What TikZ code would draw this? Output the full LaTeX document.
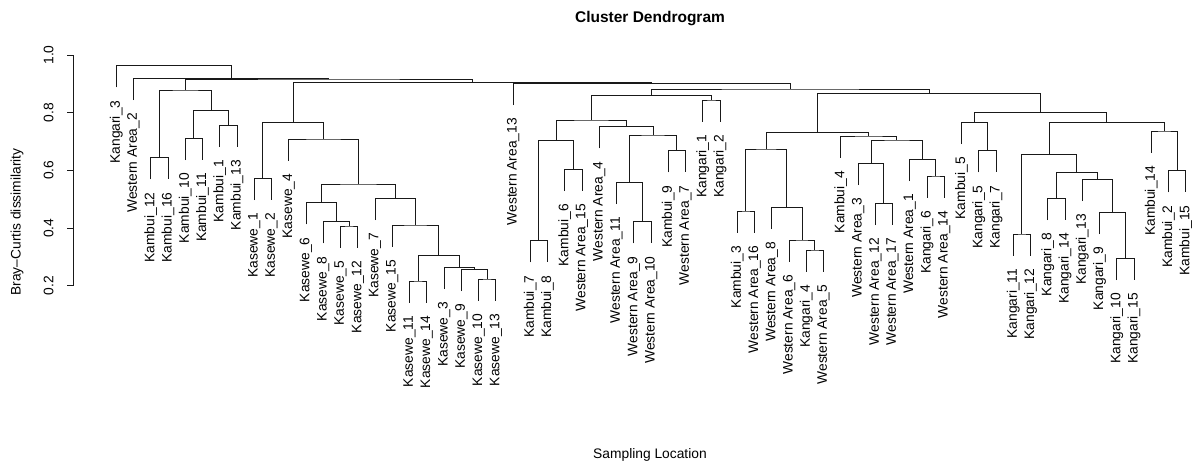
\documentclass[tikz,border=0pt]{standalone}
\usepackage{fontspec}
\setmainfont{Liberation Sans}
\usetikzlibrary{calc}
\tikzset{
  x=1pt, y=1pt,
  branch/.style={line width=0.9pt, black!90},
  axisline/.style={line width=0.9pt, black!90},
  leaflab/.style={rotate=90, anchor=east, inner sep=0pt, font=\fontsize{13.8}{16}\selectfont},
  ticklab/.style={rotate=90, anchor=base, inner sep=0pt, font=\fontsize{13.8}{16}\selectfont},
  axtitle/.style={anchor=base, inner sep=0pt, font=\fontsize{13.8}{16}\selectfont},
  maintitle/.style={anchor=base, inner sep=0pt, font=\fontsize{15.5}{18}\selectfont\bfseries},
}
% leaf: index, name, label, parent height (px)
\newcommand\lf[4]{%
  \coordinate (#2) at ({116.3+17.25*(#1-1)}, {-(#4+21.7)});
  \node[leaflab] (t#2) at ($(#2)+(0,-13)$) {#3};
}
% merge: name, child1, child2, height (px)
\newcommand\mrg[4]{%
  \path let \p1=(#2), \p2=(#3) in coordinate (#1) at ({(\x1+\x2)/2}, -#4);
  \draw[branch] (#2) |- (#1) -| (#3);
}
\begin{document}
\begin{tikzpicture}
\useasboundingbox (0,0) rectangle (1192,-464);
% titles
\node[maintitle] (title) at (650,-22) {Cluster Dendrogram};
\node[axtitle] (xlab) at (650,-458) {Sampling Location};
\node[axtitle, rotate=90] (ylab) at (20.5,-222) {Bray--Curtis dissimilarity};
% axis
\draw[axisline] (73.3,-55) -- (73.3,-285.8);
\foreach \v/\yy [count=\i] in {1.0/55,0.8/112.7,0.6/170.4,0.4/228.1,0.2/285.8}{
  \draw[axisline] (73.3,-\yy) -- (66.7,-\yy);
  \node[ticklab] (tick\i) at (53.3,-\yy) {\v};
}
% leaves
\lf{1}{L1}{Kangari\_3}{65.7}
\lf{2}{L2}{Western Area\_2}{78.3}
\lf{3}{L3}{Kambui\_12}{157.7}
\lf{4}{L4}{Kambui\_16}{157.7}
\lf{5}{L5}{Kambui\_10}{138.3}
\lf{6}{L6}{Kambui\_11}{138.3}
\lf{7}{L7}{Kambui\_1}{125.3}
\lf{8}{L8}{Kambui\_13}{125.3}
\lf{9}{L9}{Kasewe\_1}{178.3}
\lf{10}{L10}{Kasewe\_2}{178.3}
\lf{11}{L11}{Kasewe\_4}{139}
\lf{12}{L12}{Kasewe\_6}{202.7}
\lf{13}{L13}{Kasewe\_8}{221.7}
\lf{14}{L14}{Kasewe\_5}{226}
\lf{15}{L15}{Kasewe\_12}{226}
\lf{16}{L16}{Kasewe\_7}{198.3}
\lf{17}{L17}{Kasewe\_15}{225}
\lf{18}{L18}{Kasewe\_11}{281}
\lf{19}{L19}{Kasewe\_14}{281}
\lf{20}{L20}{Kasewe\_3}{267.3}
\lf{21}{L21}{Kasewe\_9}{269.3}
\lf{22}{L22}{Kasewe\_10}{279}
\lf{23}{L23}{Kasewe\_13}{279}
\lf{24}{L24}{Western Area\_13}{83.3}
\lf{25}{L25}{Kambui\_7}{240.7}
\lf{26}{L26}{Kambui\_8}{240.7}
\lf{27}{L27}{Kambui\_6}{169.3}
\lf{28}{L28}{Western Area\_15}{169.3}
\lf{29}{L29}{Western Area\_4}{126.7}
\lf{30}{L30}{Western Area\_11}{182.3}
\lf{31}{L31}{Western Area\_9}{221.7}
\lf{32}{L32}{Western Area\_10}{221.7}
\lf{33}{L33}{Kambui\_9}{150.7}
\lf{34}{L34}{Western Area\_7}{150.7}
\lf{35}{L35}{Kangari\_1}{100}
\lf{36}{L36}{Kangari\_2}{100}
\lf{37}{L37}{Kambui\_3}{211}
\lf{38}{L38}{Western Area\_16}{211}
\lf{39}{L39}{Western Area\_8}{207.3}
\lf{40}{L40}{Western Area\_6}{240}
\lf{41}{L41}{Kangari\_4}{250}
\lf{42}{L42}{Western Area\_5}{250}
\lf{43}{L43}{Kambui\_4}{136}
\lf{44}{L44}{Western Area\_3}{163.3}
\lf{45}{L45}{Western Area\_12}{203.3}
\lf{46}{L46}{Western Area\_17}{203.3}
\lf{47}{L47}{Western Area\_1}{159.3}
\lf{48}{L48}{Kangari\_6}{176}
\lf{49}{L49}{Western Area\_14}{176}
\lf{50}{L50}{Kambui\_5}{122.3}
\lf{51}{L51}{Kangari\_5}{150.7}
\lf{52}{L52}{Kangari\_7}{150.7}
\lf{53}{L53}{Kangari\_11}{234}
\lf{54}{L54}{Kangari\_12}{234}
\lf{55}{L55}{Kangari\_8}{198.3}
\lf{56}{L56}{Kangari\_14}{198.3}
\lf{57}{L57}{Kangari\_13}{179.3}
\lf{58}{L58}{Kangari\_9}{212.3}
\lf{59}{L59}{Kangari\_10}{258.3}
\lf{60}{L60}{Kangari\_15}{258.3}
\lf{61}{L61}{Kambui\_14}{131}
\lf{62}{L62}{Kambui\_2}{170.7}
\lf{63}{L63}{Kambui\_15}{170.7}
% Kambui cluster
\mrg{P34}{L3}{L4}{157.7}
\mrg{P56}{L5}{L6}{138.3}
\mrg{P78}{L7}{L8}{125.3}
\mrg{P5678}{P56}{P78}{110.7}
\mrg{K}{P34}{P5678}{90}
% Kasewe cluster
\mrg{P910}{L9}{L10}{178.3}
\mrg{P1415}{L14}{L15}{226}
\mrg{Q1}{L13}{P1415}{221.7}
\mrg{Q2}{L12}{Q1}{202.7}
\mrg{P1819}{L18}{L19}{281}
\mrg{P2223}{L22}{L23}{279}
\mrg{Q3}{L21}{P2223}{269.3}
\mrg{Q4}{L20}{Q3}{267.3}
\mrg{Q5}{P1819}{Q4}{255.7}
\mrg{Q6}{L17}{Q5}{225}
\mrg{Q7}{L16}{Q6}{198.3}
\mrg{Q8}{Q2}{Q7}{184}
\mrg{Q9}{L11}{Q8}{139}
\mrg{KS}{P910}{Q9}{122.3}
% middle cluster
\mrg{P2526}{L25}{L26}{240.7}
\mrg{P2728}{L27}{L28}{169.3}
\mrg{R1}{P2526}{P2728}{140.7}
\mrg{P3132}{L31}{L32}{221.7}
\mrg{R2}{L30}{P3132}{182.3}
\mrg{P3334}{L33}{L34}{150.7}
\mrg{R3}{R2}{P3334}{135}
\mrg{R4}{L29}{R3}{126.7}
\mrg{N8}{R1}{R4}{120}
\mrg{P3536}{L35}{L36}{100}
\mrg{N6}{N8}{P3536}{95.7}
% right-middle cluster
\mrg{P3738}{L37}{L38}{211}
\mrg{P4142}{L41}{L42}{250}
\mrg{S1}{L40}{P4142}{240}
\mrg{S2}{L39}{S1}{207.3}
\mrg{S3}{P3738}{S2}{149}
\mrg{P4546}{L45}{L46}{203.3}
\mrg{S4}{L44}{P4546}{163.3}
\mrg{P4849}{L48}{L49}{176}
\mrg{S5}{L47}{P4849}{159.3}
\mrg{S6}{S4}{S5}{140}
\mrg{S7}{L43}{S6}{136}
\mrg{N9}{S3}{S7}{132.7}
% right cluster
\mrg{P5152}{L51}{L52}{150.7}
\mrg{T1}{L50}{P5152}{122.3}
\mrg{P5354}{L53}{L54}{234}
\mrg{P5556}{L55}{L56}{198.3}
\mrg{P5960}{L59}{L60}{258.3}
\mrg{T2}{L58}{P5960}{212.3}
\mrg{T3}{L57}{T2}{179.3}
\mrg{T4}{P5556}{T3}{172.3}
\mrg{T5}{P5354}{T4}{154.3}
\mrg{P6263}{L62}{L63}{170.7}
\mrg{T6}{L61}{P6263}{131}
\mrg{T7}{T5}{T6}{122.3}
\mrg{N10}{T1}{T7}{112.3}
% upper levels
\mrg{N7}{N9}{N10}{93.3}
\mrg{N5}{N6}{N7}{89}
\mrg{N4}{L24}{N5}{83.3}
\mrg{N3}{KS}{N4}{82.7}
\mrg{N2}{K}{N3}{79}
\mrg{N1}{L2}{N2}{78.3}
\mrg{root}{L1}{N1}{65.7}
\end{tikzpicture}
\end{document}
